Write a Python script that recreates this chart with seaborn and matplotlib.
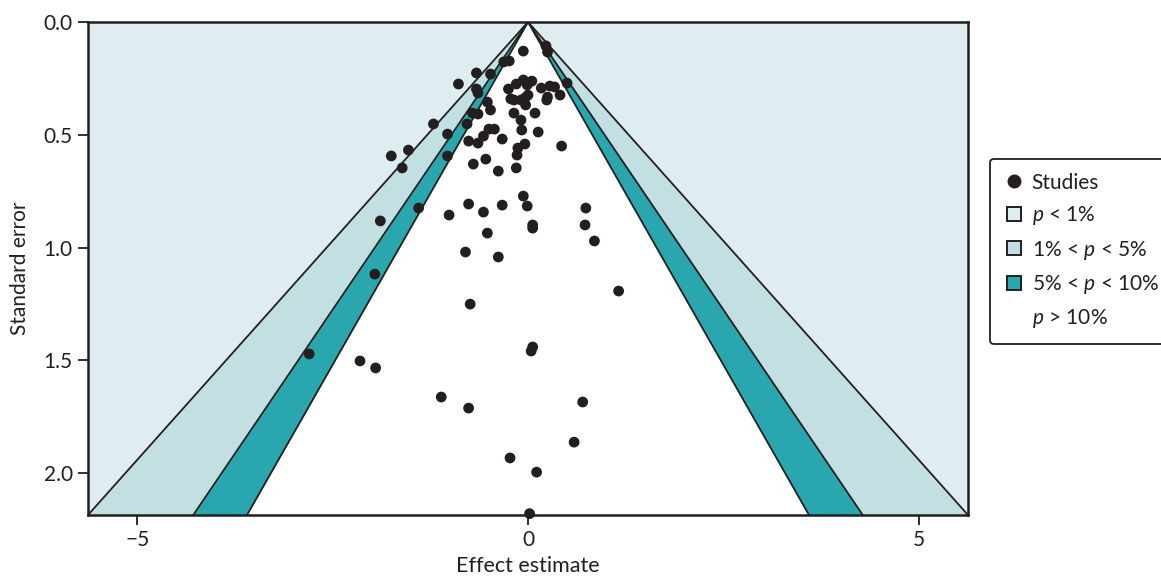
import numpy as np
import pandas as pd
import matplotlib
matplotlib.use("Agg")
import matplotlib.pyplot as plt
from matplotlib.lines import Line2D
import seaborn as sns

effect = [-0.06, 0.23, 0.25, -0.31, -0.24, -0.66, -0.48, -0.89, -0.66, -0.64,
          -0.25, -0.15, -0.06, 0.05, -0.01, 0.17, 0.28, 0.34, 0.50, 0.41,
          0.25, 0.24, -0.22, -0.18, -0.09, -0.04, 0.00, -0.03, -0.52, -0.48,
          -0.71, -0.64, -0.18, 0.09, -1.21, -1.03, -0.78, -0.50, -0.43, -0.57,
          -0.64, -0.76, -0.33, -0.09, -0.08, 0.13, 0.43, -0.04, -0.13, -0.14,
          -1.75, -1.53, -1.61, -1.03, -0.70, -0.54, -0.38, -0.15, -0.06, -1.89,
          -1.40, -1.96, -1.01, -0.76, -0.57, -0.33, -0.01, 0.06, 0.06, -0.52,
          0.74, 0.73, 0.85, -0.80, -0.38, -0.74, 1.16, -2.80, -2.15, -1.95,
          -1.11, -0.76, 0.06, 0.04, 0.70, 0.59, -0.23, 0.11, 0.02]
std_err = [0.129, 0.106, 0.133, 0.177, 0.173, 0.226, 0.231, 0.275, 0.297, 0.315,
           0.297, 0.275, 0.257, 0.262, 0.279, 0.293, 0.284, 0.288, 0.271, 0.324,
           0.333, 0.346, 0.341, 0.346, 0.346, 0.337, 0.324, 0.368, 0.355, 0.390,
           0.404, 0.408, 0.404, 0.404, 0.452, 0.497, 0.452, 0.475, 0.475, 0.506,
           0.537, 0.528, 0.519, 0.435, 0.479, 0.488, 0.550, 0.541, 0.559, 0.590,
           0.594, 0.568, 0.647, 0.594, 0.630, 0.608, 0.661, 0.647, 0.772, 0.882,
           0.825, 1.118, 0.856, 0.807, 0.843, 0.812, 0.816, 0.900, 0.914, 0.936,
           0.825, 0.900, 0.971, 1.020, 1.042, 1.251, 1.193, 1.472, 1.503, 1.534,
           1.663, 1.712, 1.441, 1.459, 1.685, 1.863, 1.933, 1.996, 2.180]

z_levels = [2.576, 1.96, 1.645]   # 1%, 5%, 10% two-sided
legend_labels = ["Studies", "$p$ < 1%", "1% < $p$ < 5%", "5% < $p$ < 10%", "$p$ > 10%"]
x_ticks = [-5, 0, 5]
y_ticks = [0.0, 0.5, 1.0, 1.5, 2.0]

c_outer = "#dfedf1"
c_mid = "#c2e0e1"
c_teal = "#2aa7ae"
c_dark = "#231f20"

sns.set_style("ticks")
plt.rcParams["font.family"] = ["Lato", "DejaVu Sans"]
plt.rcParams["mathtext.fontset"] = "custom"
plt.rcParams["mathtext.it"] = "Lato:italic"
plt.rcParams["mathtext.rm"] = "Lato"

fig = plt.figure(figsize=(11.61, 5.81), dpi=100)
ax = fig.add_axes([88/1161, 1-515/581, 880/1161, 493/581])

ymax = 2.186
xmax = z_levels[0] * ymax
se = np.linspace(0, ymax, 200)

ax.set_facecolor(c_outer)
for zo, zi, col in [(z_levels[0], z_levels[1], c_mid), (z_levels[1], z_levels[2], c_teal)]:
    ax.fill_betweenx(se, -zo*se, -zi*se, color=col, lw=0, zorder=1)
    ax.fill_betweenx(se, zi*se, zo*se, color=col, lw=0, zorder=1)
ax.fill_betweenx(se, -z_levels[2]*se, z_levels[2]*se, color="white", lw=0, zorder=1)
for z in z_levels:
    ax.plot(-z*se, se, color=c_dark, lw=1.3, zorder=2)
    ax.plot(z*se, se, color=c_dark, lw=1.3, zorder=2)

df = pd.DataFrame({"effect": effect, "se": std_err})
sns.scatterplot(data=df, x="effect", y="se", ax=ax, color=c_dark, s=60,
                edgecolor="none", zorder=5, clip_on=False, legend=False)

ax.set_xlim(-xmax, xmax)
ax.set_ylim(ymax, 0)
ax.set_xticks(x_ticks)
ax.set_xticklabels(["\u22125", "0", "5"])
ax.set_yticks(y_ticks)
ax.set_yticklabels([f"{v:.1f}" for v in y_ticks])
ax.tick_params(axis="both", labelsize=15, length=7, width=1.3, color=c_dark,
               labelcolor=c_dark, direction="out", pad=4)
for s in ax.spines.values():
    s.set_color(c_dark)
    s.set_linewidth(1.8)
    s.set_zorder(6)
ax.set_xlabel("Effect estimate", fontsize=15.5, color=c_dark, labelpad=4)
ax.set_ylabel("Standard error", fontsize=15, color=c_dark, labelpad=10)

handles = [
    Line2D([], [], marker="o", ls="none", color=c_dark, markersize=9),
    Line2D([], [], marker="s", ls="none", markerfacecolor=c_outer, markeredgecolor=c_dark, markeredgewidth=1.4, markersize=10),
    Line2D([], [], marker="s", ls="none", markerfacecolor=c_mid, markeredgecolor=c_dark, markeredgewidth=1.4, markersize=10),
    Line2D([], [], marker="s", ls="none", markerfacecolor=c_teal, markeredgecolor=c_dark, markeredgewidth=1.4, markersize=10),
    Line2D([], [], marker="s", ls="none", markerfacecolor="white", markeredgecolor="white", markersize=10),
]
leg = ax.legend(handles, legend_labels, loc="upper left", bbox_to_anchor=(1.025, 0.722),
                borderaxespad=0, fontsize=15, frameon=True, fancybox=True,
                handletextpad=0.35, labelspacing=0.55, borderpad=0.65, handlelength=1.0)
frame = leg.get_frame()
frame.set_edgecolor(c_dark)
frame.set_linewidth(1.3)
frame.set_facecolor("white")
frame.set_alpha(1)
for t in leg.get_texts():
    t.set_color(c_dark)

fig.savefig("out.png", dpi=100)
